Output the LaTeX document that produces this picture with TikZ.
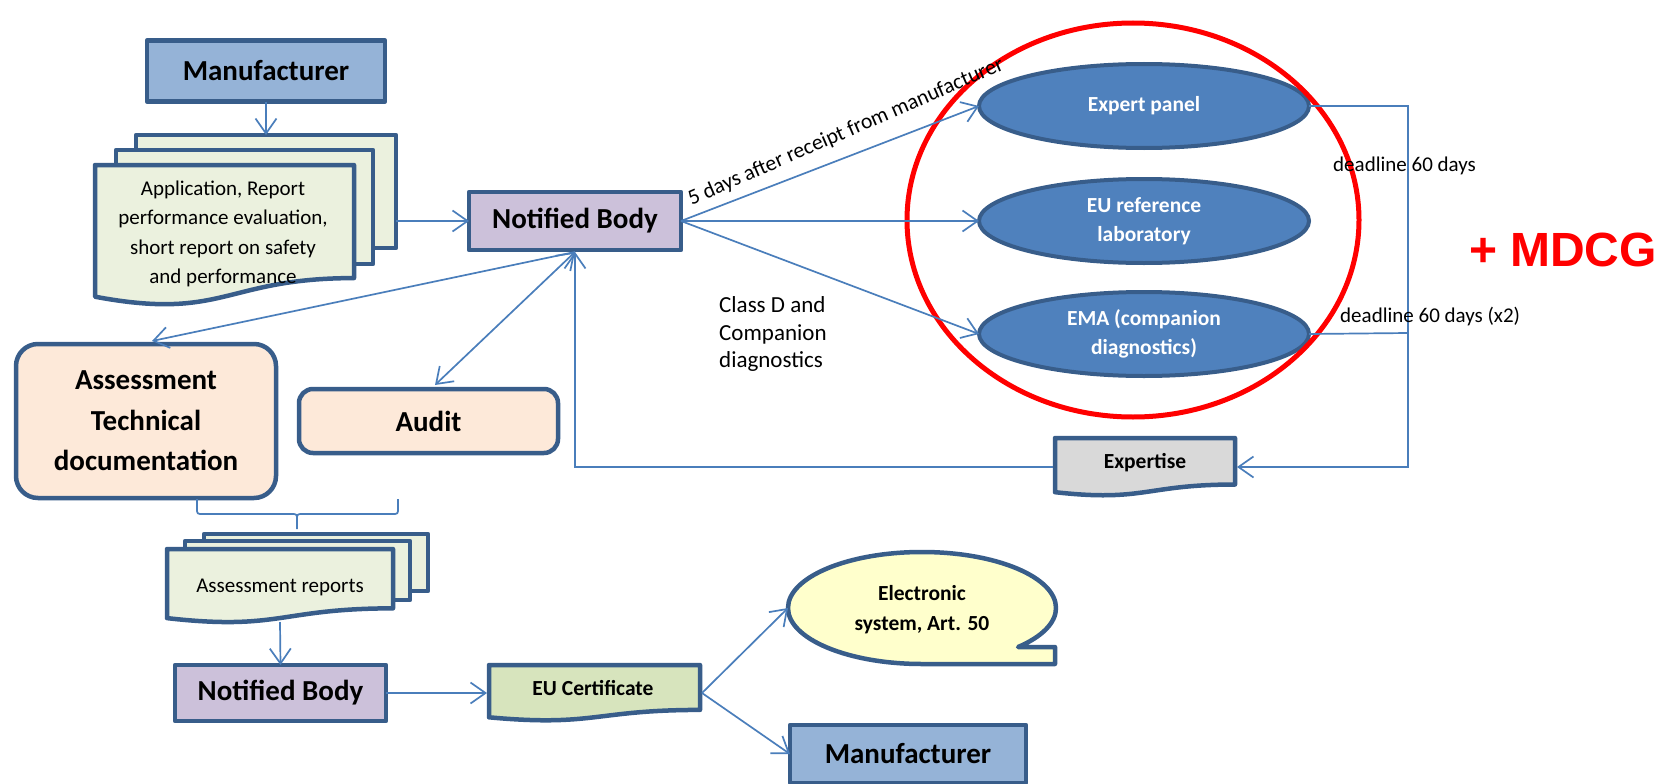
\documentclass[tikz,border=0pt]{standalone}
\usepackage{fontspec}
\setmainfont{Carlito}
\newfontfamily\arialfont{Liberation Sans}
\usetikzlibrary{arrows.meta,shapes.geometric}
\definecolor{bord}{HTML}{385D8A}
\definecolor{conn}{HTML}{4A7EBB}
\definecolor{manfill}{HTML}{95B3D7}
\definecolor{nbfill}{HTML}{CCC1DA}
\definecolor{docfill}{HTML}{EBF1DE}
\definecolor{peach}{HTML}{FDE9D9}
\definecolor{ellfill}{HTML}{4F81BD}
\definecolor{grayfill}{HTML}{D9D9D9}
\definecolor{certfill}{HTML}{D7E4BD}
\definecolor{yellowfill}{HTML}{FFFFCC}
\newcommand{\docshape}[5]{%
  \draw[docline,fill=#5] (#1,#2) -- (#3,#2) -- (#3,{#2+0.802*#4})
    .. controls ({(#1+#3)/2},{#2+0.802*#4}) and ({(#1+#3)/2},{#2+1.107*#4}) ..
    (#1,{#2+0.934*#4}) -- cycle;}
\begin{document}
\begin{tikzpicture}[x=1pt,y=-1pt,
  docline/.style={draw=bord,line width=4.5pt,line join=round},
  bigbox/.style={draw=bord,line width=4.5pt,line join=round,rectangle,inner sep=0pt,outer sep=0pt,
    font=\fontsize{29}{40.5}\selectfont\bfseries,align=center},
  oval/.style={draw=bord,line width=4pt,fill=ellfill,ellipse,inner sep=0pt,outer sep=0pt,
    minimum width=330pt,minimum height=84pt,text=white,
    font=\fontsize{21.5}{29}\selectfont\bfseries,align=center},
  boldtxt/.style={font=\fontsize{21.5}{30}\selectfont\bfseries,align=center,inner sep=0pt},
  plaintxt/.style={font=\fontsize{21}{29.5}\selectfont,inner sep=0pt},
  bigplain/.style={font=\fontsize{23}{27.5}\selectfont,inner sep=0pt},
  slantlabel/.style={font=\fontsize{21.7}{26}\selectfont,inner sep=0pt},
  conn/.style={draw=conn,line width=1.7pt},
  arr/.style={conn,-{Straight Barb[length=15pt,width=21pt,line width=1.7pt]}},
  darr/.style={conn,{Straight Barb[length=15pt,width=21pt,line width=1.7pt]}-{Straight Barb[length=15pt,width=21pt,line width=1.7pt]}}
]
\useasboundingbox (0,0) rectangle (1668,784);
\fill[white] (0,0) rectangle (1668,784);

% ---- top manufacturer and document stack
\node[bigbox,fill=manfill,minimum width=238pt,minimum height=61pt] (man1) at (266,71) {Manufacturer};
\draw[docline,fill=docfill] (136,135) rectangle (396,248);
\draw[docline,fill=docfill] (116,150) rectangle (373,264);
\docshape{95}{165}{354}{141}{docfill}
\node[plaintxt,align=center] (apps) at (223,234) {Application, Report\\performance evaluation,\\short report on safety\\and performance};
\coordinate (appsTop) at (266,135);
\coordinate (appsE) at (396,221);

% ---- notified body 1
\node[bigbox,fill=nbfill,minimum width=212pt,minimum height=58pt] (nb1) at (575,221) {Notified Body};

% ---- ellipses
\node[oval] (ep) at (1144,106) {Expert panel};
\node[oval] (eu) at (1144,221) {EU reference\\laboratory};
\node[oval] (ema) at (1144,334) {EMA (companion\\diagnostics)};

% ---- assessment and audit
\node[bigbox,fill=peach,rounded corners=22pt,minimum width=260pt,minimum height=154pt] (assess) at (146,421) {Assessment\\Technical\\documentation};
\node[bigbox,fill=peach,rounded corners=14pt,minimum width=259pt,minimum height=64pt] (audit) at (428.5,421) {Audit};
\coordinate (assessTop) at (152,341);
\coordinate (auditTop) at (435,385);
\coordinate (nb1S) at (575,252);

% ---- expertise
\docshape{1055}{438}{1235}{58}{grayfill}
\node[boldtxt] (expert) at (1145,463) {Expertise};
\coordinate (expE) at (1237,467);
\coordinate (expW) at (1053,467);
\coordinate (bendL) at (575,467);
\coordinate (bendTR) at (1408,106);
\coordinate (bendBR) at (1408,467);
\coordinate (bendM) at (1408,333);

% ---- assessment reports stack
\draw[docline,fill=docfill] (204,534) rectangle (428,591);
\draw[docline,fill=docfill] (185,541) rectangle (410,600);
\docshape{167}{549}{393}{74}{docfill}
\node[plaintxt] (reports) at (280,587) {Assessment reports};
\coordinate (repBot) at (280,622);

% ---- notified body 2 and certificate
\node[bigbox,fill=nbfill,minimum width=211pt,minimum height=56pt] (nb2) at (280.5,693) {Notified Body};
\docshape{489}{665}{700}{56}{certfill}
\node[boldtxt] (cert) at (593,688) {EU Certificate};
\coordinate (certW) at (487,693);
\coordinate (certE) at (702,693);

% ---- electronic system callout
\draw[docline,fill=yellowfill] (1055,647) -- (1055,664) -- (922,664)
   arc[start angle=90,end angle=404.2,x radius=134,y radius=56] -- cycle;
\node[boldtxt] (elec) at (922,610) {Electronic\\system, Art. 50};
\coordinate (elecW) at (788,608);

% ---- manufacturer 2
\node[bigbox,fill=manfill,minimum width=236pt,minimum height=58pt] (man2) at (908,754) {Manufacturer};

% ---- red ellipse
\node[draw=red,line width=5pt,ellipse,inner sep=0pt,minimum width=452pt,minimum height=394pt] (panel) at (1133,220) {};

% ---- connectors
\draw[arr] (man1.south) -- (appsTop);
\draw[arr] (appsE) -- (nb1.west);
\draw[arr] (nb1.east) -- (ep.west);
\draw[arr] (nb1.east) -- (eu.west);
\draw[arr] (nb1.east) -- (ema.west);
\draw[arr] (ep.east) -- (bendTR) -- (bendBR) -- (expE);
\draw[conn] (ema.east) -- (bendM);
\draw[arr] (expW) -- (bendL) -- (nb1S);
\draw[arr] (nb1S) -- (assessTop);
\draw[darr] (nb1S) -- (auditTop);
\draw[conn,line join=round] (197,499) -- (197,508) .. controls (197,514) .. (203,514) -- (291,514)
   .. controls (297,514) .. (297,520) -- (297,529);
\draw[conn,line join=round] (398,499) -- (398,508) .. controls (398,514) .. (392,514) -- (303,514)
   .. controls (297,514) .. (297,520);
\draw[arr] (repBot) -- (nb2.north);
\draw[arr] (nb2.east) -- (certW);
\draw[arr] (certE) -- (elecW);
\draw[arr] (certE) -- (man2.west);

% ---- labels
\node[slantlabel,rotate=23.5] (lbl5) at (846,132) {5 days after receipt from manufacturer};
\node[bigplain,anchor=west,align=left] (lblD) at (719,334) {Class D and\\Companion\\diagnostics};
\node[plaintxt,anchor=west] (dl1) at (1333,166) {deadline 60 days};
\node[plaintxt,anchor=west] (dl2) at (1340,317) {deadline 60 days (x2)};
\node[text=red,inner sep=0pt,font=\arialfont\bfseries\fontsize{48}{50}\selectfont] (mdcg) at (1563,250) {+ MDCG};
\end{tikzpicture}
\end{document}
